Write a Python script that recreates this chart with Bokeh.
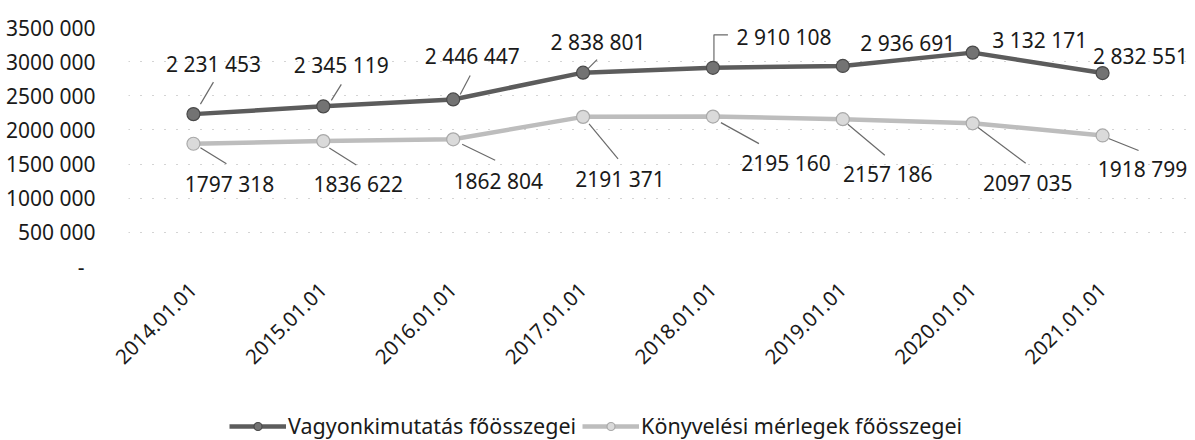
import math
from bokeh.plotting import figure
from bokeh.layouts import column
from bokeh.models import Legend, LegendItem, FixedTicker, ColumnDataSource, Range1d
from bokeh.core.properties import value
from bokeh.embed import file_html
from bokeh.resources import INLINE

# ---------------- data ----------------
dates = ["2014.01.01", "2015.01.01", "2016.01.01", "2017.01.01",
         "2018.01.01", "2019.01.01", "2020.01.01", "2021.01.01"]
vagyon = [2231453, 2345119, 2446447, 2838801, 2910108, 2936691, 3132171, 2832551]
konyv = [1797318, 1836622, 1862804, 2191371, 2195160, 2157186, 2097035, 1918799]
series_names = ["Vagyonkimutatás főösszegei", "Könyvelési mérlegek főösszegei"]
y_ticks = [0, 500000, 1000000, 1500000, 2000000, 2500000, 3000000, 3500000]

def fmt_full(v):
    return f"{v:,}".replace(",", " ")

def fmt_short(v):
    if v == 0:
        return "-\u00a0\u00a0"
    return f"{v // 1000} {v % 1000:03d}"

# ---------------- label placement (screen px, relative to point; +dy = up) ----
dark_lbl_dx = [20, 18, 19, 15, 71, 65, 67, 38]
dark_lbl_dy = [50, 41, 43, 31, 31, 23, 13, 17]
light_lbl_dx = [36, 35, 45, 37, 73, 45, 55, 40]
light_lbl_dy = [-40, -43, -42, -62, -46, -55, -60, -34]

dark_leaders = [
    [(7, 10), (20, 32)],
    [(8, 6), (18, 22)],
    [(7, 5), (17, 24)],
    [(5, 4), (14, 13)],
    [(1, 5), (1, 33), (15, 33)],
    None, None, None,
]
light_leaders = [
    [(7, -4), (33, -20)],
    [(6, -7), (33, -24)],
    [(9, -5), (42, -21)],
    [(6, -7), (35, -42)],
    [(8, -6), (46, -27)],
    [(5, -5), (42, -36)],
    [(5, -4), (53, -40)],
    [(6, -3), (36, -15)],
]

# ---------------- geometry ----------------
TOTAL_W, TOTAL_H = 1193, 440
BL, BT, BB = 128, 27, 125
px_x = 129.875                     # px per category
frame_w = TOTAL_W - BL
frame_h = 239
y_max = 3500000
px_y = y_max / frame_h
x_end = -0.5 + frame_w / px_x
LEG_H = TOTAL_H - BT - frame_h - BB

FONT = "Noto Sans"
FS = "21px"
TXT = "#1a1a1a"
DARK = "#5c5c5c"
LIGHT = "#bdbdbd"

p = figure(frame_width=frame_w, frame_height=frame_h,
           output_backend="svg", toolbar_location=None,
           x_range=Range1d(-0.5, x_end), y_range=Range1d(0, y_max),
           min_border_left=BL, min_border_right=0, min_border_top=BT,
           min_border_bottom=BB)
p.outline_line_color = None
p.background_fill_color = "white"
p.border_fill_color = "white"

xs = list(range(len(dates)))

p.xgrid.visible = False
p.ygrid.ticker = FixedTicker(ticks=y_ticks)
p.ygrid.grid_line_color = "#a8a8a8"
p.ygrid.grid_line_dash = "1 11"
p.ygrid.grid_line_width = 1

p.yaxis.ticker = FixedTicker(ticks=y_ticks)
p.yaxis.major_label_overrides = {t: fmt_short(t) for t in y_ticks}
p.yaxis.axis_line_color = None
p.yaxis.major_tick_line_color = None
p.yaxis.minor_tick_line_color = None
p.yaxis.major_label_standoff = 27
p.yaxis.major_label_text_font = FONT
p.yaxis.major_label_text_font_size = FS
p.yaxis.major_label_text_color = TXT

p.xaxis.ticker = FixedTicker(ticks=xs)
p.xaxis.major_label_overrides = {i: d for i, d in enumerate(dates)}
p.xaxis.major_label_orientation = math.pi / 4
p.xaxis.axis_line_color = None
p.xaxis.major_tick_line_color = None
p.xaxis.minor_tick_line_color = None
p.xaxis.major_label_standoff = 14
p.xaxis.major_label_text_font = FONT
p.xaxis.major_label_text_font_size = "20.5px"
p.xaxis.major_label_text_color = TXT

def build_leaders(leaders, vals):
    lx, ly = [], []
    for i, (ld, v) in enumerate(zip(leaders, vals)):
        if ld is None:
            continue
        lx.append([i + dx / px_x for dx, dy in ld])
        ly.append([v + dy * px_y for dx, dy in ld])
    return lx, ly

dlx, dly = build_leaders(dark_leaders, vagyon)
llx, lly = build_leaders(light_leaders, konyv)
p.multi_line(dlx, dly, line_color="#6a6a6a", line_width=1.2)
p.multi_line(llx, lly, line_color="#6a6a6a", line_width=1.2)

line_kw1 = dict(line_color=DARK, line_width=4.5)
mark_kw1 = dict(size=13, fill_color="#737373", line_color="#4a4a4a", line_width=1.2)
line_kw2 = dict(line_color=LIGHT, line_width=4.5)
mark_kw2 = dict(size=13, fill_color="#dadada", line_color="#a9a9a9", line_width=1.2)

p.line(xs, vagyon, **line_kw1)
p.scatter(xs, vagyon, **mark_kw1)
p.line(xs, konyv, **line_kw2)
p.scatter(xs, konyv, **mark_kw2)

src_d = ColumnDataSource(dict(x=xs, y=vagyon, t=[fmt_full(v) for v in vagyon],
                              dx=dark_lbl_dx, dy=[-d for d in dark_lbl_dy]))
src_l = ColumnDataSource(dict(x=xs, y=konyv, t=[fmt_short(v) for v in konyv],
                              dx=light_lbl_dx, dy=[-d for d in light_lbl_dy]))
for src in (src_d, src_l):
    p.text(x="x", y="y", text="t", x_offset="dx", y_offset="dy", source=src,
           text_align="center", text_baseline="middle",
           text_font=value(FONT), text_font_size=FS, text_color=TXT)

# ---------------- legend strip ----------------
lf = figure(width=TOTAL_W, height=LEG_H, output_backend="svg", toolbar_location=None,
            x_range=Range1d(0, 1), y_range=Range1d(0, 1), min_border=0)
lf.axis.visible = False
lf.grid.visible = False
lf.outline_line_color = None
lf.background_fill_color = "white"
lf.border_fill_color = "white"
r1l = lf.line([-5, -4], [-5, -4], **line_kw1)
r1m = lf.scatter([-5], [-5], **mark_kw1)
r2l = lf.line([-5, -4], [-5, -4], **line_kw2)
r2m = lf.scatter([-5], [-5], **mark_kw2)

legend = Legend(items=[LegendItem(label=series_names[0], renderers=[r1l, r1m]),
                       LegendItem(label=series_names[1], renderers=[r2l, r2m])],
                orientation="horizontal", location=(101, 0),
                border_line_color=None, background_fill_alpha=0,
                label_text_font=FONT, label_text_font_size="21.5px",
                label_text_color=TXT, glyph_width=57, glyph_height=20,
                label_standoff=2, spacing=6, padding=4, margin=0)
lf.add_layout(legend)

layout = column(p, lf, spacing=0)
open("out.html", "w").write(file_html(layout, INLINE))
